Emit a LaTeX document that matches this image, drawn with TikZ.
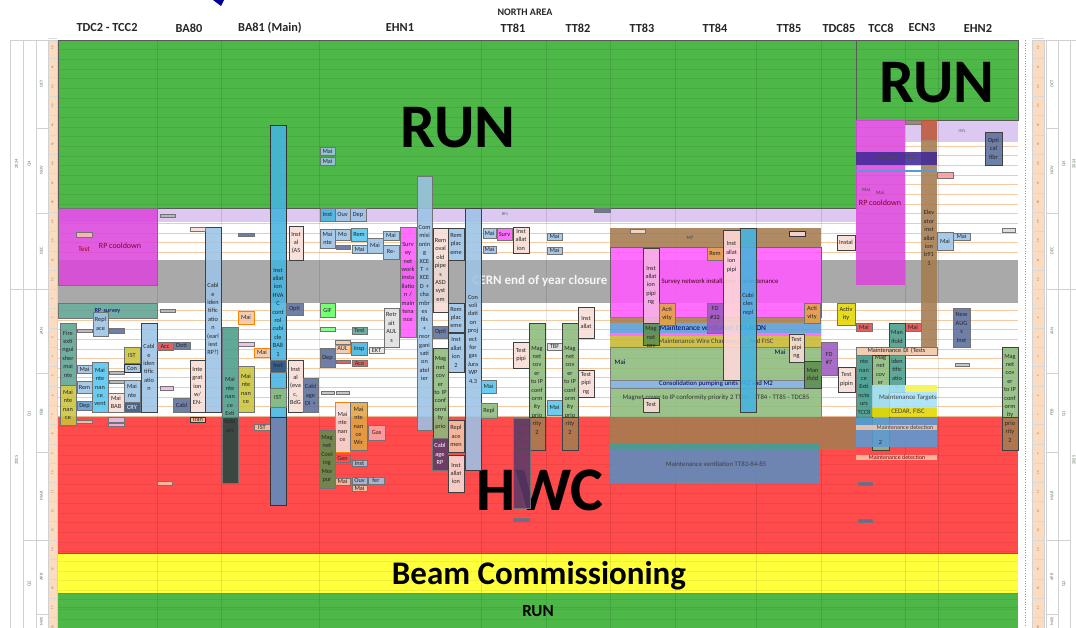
\documentclass[tikz,border=0pt]{standalone}
\usepackage{fontspec}
\setmainfont{Carlito}
\definecolor{run}{HTML}{4DB848}
\definecolor{lav}{HTML}{DCC8F0}
\definecolor{hwc}{HTML}{FF4B4B}
\definecolor{bcom}{HTML}{FFFF3C}
\definecolor{clos}{HTML}{A9A9A9}
\definecolor{cMag}{HTML}{DC46DC}
\definecolor{cMagB}{HTML}{FF5AFF}
\definecolor{cTeal}{HTML}{5EA392}
\definecolor{cLtb}{HTML}{9DC3E6}
\definecolor{cCyan}{HTML}{55C6EE}
\definecolor{cYg}{HTML}{C9C43C}
\definecolor{cPale}{HTML}{F6DDD6}
\definecolor{cSlate}{HTML}{5B6E9C}
\definecolor{cNavy}{HTML}{34507E}
\definecolor{cTealD}{HTML}{4A9E8C}
\definecolor{cHvac}{HTML}{45B4E0}
\definecolor{cHvacB}{HTML}{5B8CC0}
\definecolor{cGreen}{HTML}{8CBB7C}
\definecolor{cGreenD}{HTML}{5E8E4E}
\definecolor{cPurp}{HTML}{5C3A6A}
\definecolor{cBrown}{HTML}{A57C50}
\definecolor{cOrange}{HTML}{E3A444}
\definecolor{cRed}{HTML}{E04A4A}
\definecolor{cPeach}{HTML}{F3C5A8}
\definecolor{cBlue}{HTML}{5B9BD5}
\definecolor{cOlive}{HTML}{C9B834}
\definecolor{cViolet}{HTML}{9A5AC0}
\definecolor{cPinkB}{HTML}{F4B4E4}
\definecolor{cStrip}{HTML}{FBDCC0}
\definecolor{cRow}{HTML}{F5C9A2}
\definecolor{axtxt}{HTML}{5A7F5A}
% task block: [style] x1 y1 x2 y2 fill text
\newcommand\bk[7][]{%
  \pgfmathsetmacro\bkw{#4-#2}%
  \pgfmathsetmacro\bkx{(#2+#4)/2}%
  \pgfmathsetmacro\bky{(#3+#5)/2}%
  \draw[blk,fill=#6,#1] (#2,#3) rectangle (#4,#5);
  \node[blktxt,text width=\bkw pt] at (\bkx,\bky) {#7};}
% small unlabelled tag
\newcommand\tg[5]{\draw[blk,fill=#5,line width=0.3pt] (#1,#2) rectangle (#3,#4);}
\begin{document}
\begin{tikzpicture}[x=1pt,y=-1pt,
  blk/.style={draw=black!55,line width=0.4pt,fill opacity=0.88},
  blktxt/.style={font=\fontsize{6.3}{8.4}\selectfont,inner sep=0pt,align=center,text=black!85},
  head/.style={font=\fontsize{12.3}{13}\selectfont\bfseries,text=black!85},
  wklab/.style={font=\fontsize{2.8}{3}\selectfont,text=black!60,rotate=90,inner sep=0pt},
  axlab/.style={font=\fontsize{4.5}{5}\selectfont,text=axtxt,rotate=90,inner sep=0pt},
  axline/.style={draw=black!18,line width=0.4pt},
  bigtxt/.style={font=\fontsize{62}{62}\selectfont\bfseries,text=black},
  wide/.style={font=\fontsize{6.8}{8}\selectfont,inner sep=0pt,text=black!75}]
\useasboundingbox (0,0) rectangle (1076,628);
\fill[white] (0,0) rectangle (1076,628);

% ---------- time axes ----------
\fill[cStrip] (48,40) rectangle (57,628);
\fill[cStrip] (1032,40) rectangle (1044,628);
\foreach \xx in {10,23,36,48,57} \draw[axline] (\xx,40) -- (\xx,628);
\foreach \xx in {1032,1044,1046,1058,1070} \draw[axline] (\xx,40) -- (\xx,628);
\draw[axline] (10,40) -- (57,40);
\draw[axline] (1032,40) -- (1076,40);
\foreach \yy in {128,213,289,373,452,540,614}{
  \draw[axline] (36,\yy) -- (48,\yy);
  \draw[axline] (1046,\yy) -- (1058,\yy);}
\foreach \yy in {289,540}{
  \draw[axline] (23,\yy) -- (36,\yy);
  \draw[axline] (1058,\yy) -- (1070,\yy);}
\draw[axline] (10,289) -- (23,289);
\draw[axline] (1070,289) -- (1076,289);
\draw[blue!45,dotted,line width=0.6pt] (1025,40) -- (1025,628);
\foreach \i in {0,...,30}{
  \pgfmathtruncatemacro\wk{\i<13 ? \i+40 : \i-12}
  \pgfmathsetmacro\yy{48+19.3*\i}
  \pgfmathsetmacro\yb{38.4+19.3*\i}
  \node[wklab] at (52.5,\yy) {\wk};
  \node[wklab] at (1038,\yy) {\wk};
  \draw[black!15,line width=0.3pt] (48,\yb) -- (57,\yb);
  \draw[black!15,line width=0.3pt] (1032,\yb) -- (1044,\yb);
}
\foreach \yy/\m in {84/OCT,170/NOV,251/DEC,331/JAN,412/FEB,496/MAR,577/APR,621/MAY}{
  \node[axlab] at (41.5,\yy) {\m};
  \node[axlab] at (1052,\yy) {\m};}
\foreach \yy/\q in {164/Q4,414/Q1,584/Q2}{
  \node[axlab] at (29.5,\yy) {\q};
  \node[axlab] at (1064,\yy) {\q};}
\node[axlab] at (16.5,164) {2024};
\node[axlab] at (16.5,460) {2025};
\node[axlab] at (1074,164) {2024};
\node[axlab] at (1074,460) {2025};

% ---------- header ----------
\fill[blue!60!black] (213,0) -- (224,0) -- (221,6) -- cycle;
\node[font=\fontsize{10}{10}\selectfont\bfseries,text=black!85] (na) at (525,12) {NORTH AREA};
\foreach \xx/\t [count=\n] in {107/TDC2 - TCC2,189/BA80,270/BA81 (Main),400/EHN1,513/TT81,578/TT82,642/TT83,715/TT84,789/TT85,839/TDC85,881/TCC8,922/ECN3,978/EHN2}
  \node[head] (h\n) at (\xx,28) {\t};

% ---------- row lines of the free weeks ----------
\foreach \k in {0,...,61}{
  \pgfmathsetmacro\yy{40+9.65*\k}
  \draw[cRow,line width=0.6pt] (58,\yy) -- (1018,\yy);}

% ---------- phase bands ----------
\fill[run] (58,40) rectangle (856,208);
\fill[run] (856,40) rectangle (1018,120);
\fill[lav] (58,208) rectangle (856,222);
\fill[lav] (905,120) rectangle (1018,142);
\fill[clos] (58,260) rectangle (1018,303);
\fill[hwc] (58,417) rectangle (1018,553);
\fill[bcom] (58,553) rectangle (1018,593);
\fill[run] (58,593) rectangle (1018,628);

% ---------- grid over the phase bands ----------
\foreach \k in {0,...,17}{
  \pgfmathsetmacro\yy{40+9.65*\k}
  \draw[black,opacity=0.07,line width=0.5pt] (58,\yy) -- (856,\yy);}
\foreach \k in {0,...,8}{
  \pgfmathsetmacro\yy{40+9.65*\k}
  \draw[black,opacity=0.07,line width=0.5pt] (856,\yy) -- (1018,\yy);}
\foreach \k in {39,...,61}{
  \pgfmathsetmacro\yy{40+9.65*\k}
  \draw[black,opacity=0.06,line width=0.5pt] (58,\yy) -- (1018,\yy);}
\foreach \xx in {157,221,319,481,546,610,675,756,821,905,938}
  \draw[black,opacity=0.10,line width=0.5pt] (\xx,40) -- (\xx,628);
\draw[black!65,line width=0.6pt] (58,40) -- (1018,40) -- (1018,120) -- (856,120) -- (856,208) -- (58,208) -- cycle;
\draw[black!65,line width=0.6pt] (856,40) -- (856,120);
\draw[black!60,line width=0.5pt] (58,553) -- (1018,553);
\draw[black!50,line width=0.5pt] (58,593) -- (1018,593);
\draw[black!50,line width=0.5pt] (58,607) -- (1018,607);

% ---------- phase labels ----------
\node[bigtxt] (run1) at (458,128) {RUN};
\node[bigtxt] (run2) at (937,83) {RUN};
\node[bigtxt] (hwcl) at (540,490) {HWC};
\node[font=\fontsize{33}{33}\selectfont\bfseries] (bcl) at (539,576) {Beam Commissioning};
\node[font=\fontsize{17}{17}\selectfont\bfseries] (run3) at (538,611) {RUN};
\node[font=\fontsize{13}{13}\selectfont\bfseries,text=white,opacity=0.9] (closl) at (540,281) {CERN end of year closure};

% ---------- TDC2 - TCC2 ----------
\bk{58}{208}{157}{285}{cMag}{}
\node[font=\fontsize{8}{8}\selectfont,text=purple!70!black] at (120,246) {RP cooldown};
\node[font=\fontsize{7}{7}\selectfont,text=red!60!black] at (84,249) {Test};
\tg{76}{232}{92}{237}{cPeach}
\bk{58}{303}{157}{318}{cTeal}{\textcolor{blue!50!black}{RP survey}}
\bk{93}{312}{108}{336}{cLtb}{Repl\\ace}
\bk{60}{323}{76}{385}{cTeal}{Fire\\exti\\ngui\\sher\\mai\\nte}
\bk{60}{385}{76}{425}{cYg}{Mai\\nte\\nan\\ce}
\tg{77}{329}{92}{332}{black!30}
\tg{109}{328}{124}{333}{cSlate}
\bk{77}{365}{92}{373}{cLtb}{Mai}
\bk{77}{381}{92}{393}{cLtb}{Rem}
\bk{77}{401}{92}{410}{cBlue}{Dep}
\bk{92}{362}{108}{412}{cCyan}{Mai\\nte\\nan\\ce\\vent}
\tg{109}{371}{124}{374}{black!30}
\tg{109}{380}{124}{383}{black!30}
\bk{108}{393}{124}{412}{cPale}{Mai\\BAB}
\bk{124}{347}{140}{363}{cYg}{IST}
\bk[draw=black!80]{124}{364}{140}{372}{cLtb}{Con}
\bk{124}{380}{140}{402}{cLtb}{Mai\\nte}
\bk{124}{402}{140}{412}{cNavy}{\textcolor{white}{CRY}}
\bk[draw=black!75]{141}{323}{157}{412}{cLtb}{Cabl\\e\\iden\\tific\\atio\\n}
\tg{108}{417}{124}{422}{lav}
\tg{108}{423}{124}{426}{cPinkB}
\tg{76}{420}{92}{423}{cPeach}

% ---------- BA80 ----------
\tg{160}{214}{175}{217}{black!30}
\tg{160}{309}{175}{312}{black!30}
\bk{157}{342}{173}{350}{cRed}{Acc}
\bk{173}{342}{190}{349}{cSlate}{Doti}
\tg{160}{386}{173}{390}{cPinkB}
\bk{173}{398}{190}{412}{cSlate}{Cabl}
\bk[draw=black!75]{190}{360}{205}{412}{cPale}{Inte\\grat\\ion\\w/\\EN-}
\bk[draw=black!75]{205}{227}{221}{412}{cLtb}{Cabl\\e\\iden\\tific\\atio\\n\\(earl\\iest\\RP?)}
\tg{190}{227}{205}{231}{cPale}
\bk[draw=black!80]{190}{417}{205}{422}{cPeach}{Tran}
\tg{157}{481}{172}{485}{cPeach}

% ---------- BA81 ----------
\bk{222}{327}{238}{417}{cTealD}{}
\bk{222}{417}{238}{483}{black!55!cTealD}{}
\node[blktxt] at (230,405) {Mai\\nte\\nan\\ce\\Exti\\ncte\\urs};
\tg{238}{233}{254}{236}{cSlate}
\bk[draw=orange]{238}{311}{254}{324}{cPeach}{Mai}
\tg{238}{342}{254}{346}{cPinkB}
\bk[draw=orange]{254}{348}{270}{357}{cPeach}{Mai}
\bk{238}{366}{254}{412}{cYg}{Mai\\nte\\nan\\ce}
\bk{254}{424}{270}{430}{cPeach}{IST}
\bk[draw=black!80]{270}{125}{286}{417}{cHvac}{}
\bk[draw=black!80]{270}{417}{286}{505}{cHvacB}{}
\node[blktxt] at (278,312) {Inst\\allat\\ion\\HVA\\C\\cont\\rol\\cubi\\cle\\BA8\\1};
\bk{270}{360}{286}{372}{cNavy}{Inst}
\bk{270}{388}{286}{407}{cGreen}{IST}
\bk[draw=black!75]{289}{226}{303}{260}{cPale}{Inst\\al\\(AS}
\bk{286}{303}{303}{315}{cSlate}{Opti}
\bk[draw=black!75]{288}{360}{303}{412}{cPale}{Inst\\al\\(eva\\c,\\BdG}
\bk{303}{378}{318}{412}{cSlate}{Cabl\\age\\DI +}

% ---------- EHN1 ----------
\bk{320}{208}{335}{221}{cHvac}{Inst}
\bk{335}{208}{350}{221}{cLtb}{Ouv}
\bk{350}{208}{366}{221}{cLtb}{Dep}
\bk{320}{229}{335}{248}{cLtb}{Mai\\nte}
\bk{335}{229}{350}{240}{cLtb}{Mo}
\bk{351}{228}{367}{241}{cCyan}{Rem}
\tg{336}{245}{350}{249}{cSlate}
\bk{352}{245}{367}{253}{cLtb}{Mai}
\bk{367}{238}{383}{253}{cLtb}{Mai}
\bk{383}{231}{399}{240}{cLtb}{Mai}
\bk{383}{245}{399}{259}{cLtb}{Re-}
\bk{400}{227}{416}{337}{cMagB}{Surv\\ey\\net\\work\\insta\\llatio\\n /\\main\\tena\\nce}
\bk{417}{176}{432}{430}{cLtb}{Com\\misi\\onin\\g\\XCE\\T +\\XCE\\D +\\cha\\mbr\\es\\fils\\+\\reor\\gani\\sati\\on\\atel\\ier}
\bk[draw=black!75]{433}{228}{448}{312}{cPale}{Rem\\oval\\old\\pipe\\s\\ASD\\syst\\em}
\bk{433}{326}{448}{338}{cSlate}{Opti}
\bk[draw=black!75]{433}{348}{448}{438}{cGreen}{Mag\\net\\cov\\er\\to IP\\conf\\ormi\\ty\\prio}
\bk{432}{438}{448}{470}{cPurp}{\textcolor{white!80}{Cabl\\age\\RP}}
\bk[draw=black!75]{448}{228}{464}{260}{cLtb}{Rem\\plac\\eme}
\bk[draw=black!75]{448}{303}{464}{332}{cLtb}{Rem\\plac\\eme}
\bk[draw=black!75]{448}{333}{464}{372}{cLtb}{Inst\\allat\\ion\\2}
\bk[draw=black!75]{448}{420}{464}{452}{cPeach}{Repl\\ace\\men}
\bk[draw=black!75]{448}{455}{464}{492}{cPale}{Inst\\allat\\ion}
\bk[draw=black!75]{465}{208}{481}{470}{cLtb}{Con\\soli\\dati\\on\\proj\\ect\\for\\gas\\Jura\\WP\\4.3}
\bk{384}{308}{399}{347}{black!12}{Retr\\ait\\AUL\\s}
\bk{320}{303}{335}{317}{green!60}{GIF}
\tg{320}{327}{335}{331}{green!50}
\bk{352}{327}{367}{334}{cTeal}{Test}
\tg{335}{340}{350}{344}{cPeach}
\bk[draw=orange]{335}{345}{350}{353}{cPeach}{AUL}
\bk{351}{342}{367}{355}{cHvac}{Insp}
\bk{369}{347}{384}{353}{black!10}{EKT}
\bk{320}{348}{335}{367}{cSlate}{Dep}
\tg{336}{360}{350}{363}{cRed}
\bk{352}{360}{367}{366}{cRed}{Ace}
\tg{321}{391}{334}{394}{black!25}
\tg{336}{391}{349}{394}{black!25}
\bk[draw=orange]{335}{402}{350}{452}{cPale}{Mai\\nte\\nan\\ce}
\bk{350}{402}{367}{450}{cOrange}{Mai\\nte\\nan\\ce\\Wir}
\bk{368}{425}{385}{440}{red!35}{Gas}
\bk{319}{430}{335}{488}{cGreenD}{Mag\\net\\Cool\\ing\\Mor\\pur}
\bk{335}{455}{350}{462}{hwc}{Gen}
\bk{352}{460}{367}{466}{cLtb}{Inst}
\bk{335}{478}{350}{485}{cPeach}{Mai}
\bk{352}{477}{367}{484}{cLtb}{Ouv}
\bk{368}{477}{384}{484}{cLtb}{fer}
\bk{352}{485}{367}{491}{cPeach}{Mai}
\bk{320}{147}{335}{155}{cLtb}{Mai}
\bk{320}{157}{335}{165}{cLtb}{Mai}

% ---------- TT81 / TT82 ----------
\node[font=\fontsize{4.5}{5}\selectfont,text=black!60] at (505,214) {BFs};
\bk{483}{228}{496}{238}{cLtb}{Mai}
\bk{497}{228}{512}{240}{cMagB}{Surv}
\bk[draw=black!75]{513}{227}{529}{253}{cPale}{Inst\\allat\\ion}
\bk{483}{246}{496}{253}{cLtb}{Mai}
\bk{481}{380}{496}{393}{cCyan}{Mai}
\bk{481}{403}{497}{418}{cGreen}{Repl}
\bk[draw=black!75]{513}{342}{529}{368}{cPale}{Test\\pipi}
\bk[draw=black!75]{529}{323}{545}{417}{cGreen}{}
\bk[draw=black!75]{529}{417}{545}{450}{cBrown}{}
\node[blktxt] at (537,390) {Mag\\net\\cov\\er\\to IP\\conf\\orm\\ity\\prio\\rity\\2};
\draw[blk,fill=cPurp] (513,418) rectangle (530,508);
\node[blktxt,text width=17pt,text=black!70] at (521.5,437) {Cabl\\age\\Fire\\Safe};
\tg{513}{518}{529}{521}{cSlate}
\bk{547}{233}{562}{240}{cLtb}{Mai}
\bk{547}{247}{562}{254}{cLtb}{Mai}
\bk{547}{343}{562}{350}{black!12}{TBF}
\bk{547}{400}{562}{415}{cCyan}{Mai}
\bk[draw=black!75]{562}{323}{578}{417}{cGreen}{}
\bk[draw=black!75]{562}{417}{578}{450}{cBrown}{}
\node[blktxt] at (570,390) {Mag\\net\\cov\\er\\to IP\\conf\\orm\\ity\\prio\\rity\\2};
\bk[draw=black!75]{578}{307}{594}{338}{cPale}{Inst\\allat}
\bk[draw=black!75]{578}{370}{594}{397}{cPale}{Test\\pipi\\ng}
\tg{594}{208}{610}{212}{cSlate}

% ---------- TT83 / TT84 / TT85 ----------
\bk[draw=none]{610}{228}{821}{247}{cBrown}{}
\bk[draw=black!60]{610}{247}{821}{317}{cMagB}{}
\node[wide,text=purple!40!black] at (720,282) {Survey network installation / maintenance};
\bk[draw=none]{610}{317}{821}{323}{cBrown}{}
\bk[draw=none]{610}{323}{821}{333}{cBlue}{}
\node[wide,font=\fontsize{7.5}{8}\selectfont,text=blue!40!black] at (713,328) {Maintenance ventilation ET LACON};
\bk[draw=none]{610}{333}{821}{336}{cMagB}{}
\bk[draw=none]{610}{336}{821}{347}{cOlive}{}
\node[wide,text=black!75] at (716,342) {Maintenance Wire Chambers, ... And FISC};
\bk[draw=black!50]{610}{347}{821}{380}{cGreen}{}
\node[wide,text=blue!40!black] at (620,362) {Mai};
\node[wide,text=blue!40!black] at (780,352) {Mai};
\bk[draw=black!50]{610}{380}{821}{388}{cBlue!80}{}
\node[wide,text=blue!30!black] at (716,384) {Consolidation pumping units P42 and M2};
\bk[draw=black!50]{610}{388}{821}{417}{cGreen}{}
\node[wide,text=black!80] at (716,398) {Magnet cover to IP conformity priority 2 TT83 - TT84 - TT85 - TDC85};
\bk[draw=none]{610}{417}{856}{450}{cBrown}{}
\bk[draw=none]{610}{443}{820}{484}{cHvacB}{}
\bk[draw=none]{610}{443}{820}{450}{cTealD}{}
\node[wide,text=black!75] at (716,464) {Maintenance ventilation TT83-84-85};
\node[wide,font=\fontsize{5.5}{6}\selectfont,text=black!45] at (716,483) {Remplacement ... sur collimateurs};
\tg{630}{229}{645}{233}{cPale}
\node[wide,font=\fontsize{5}{5}\selectfont] at (690,238) {M7};
\bk[draw=black!75]{643}{248}{659}{323}{cPinkB}{Inst\\allat\\ion\\pipi\\ng}
\draw[blk,draw=black!75,fill=cGreenD] (643,323) rectangle (659,345);
\node[blktxt,text width=16pt] at (651,337) {Mag\\net\\cov};
\bk{659}{303}{675}{325}{cOrange}{Acti\\vity}
\bk[draw=black!75]{643}{398}{659}{412}{cPale}{Test}
\bk{707}{247}{723}{260}{cOrange}{Rem}
\draw[blk,fill=cViolet] (707,303) rectangle (723,333);
\node[blktxt,text width=16pt] at (715,313) {FD\\\#32};
\draw[blk,draw=black!75,fill=pink!60] (723,230) rectangle (740,380);
\node[blktxt,text width=17pt] at (731.5,257) {Inst\\allat\\ion\\pipi};
\draw[blk,draw=black!75,fill=cHvac] (740,228) rectangle (756,412);
\node[blktxt,text width=16pt] at (748,304) {Cubi\\cles\\repl};
\bk[draw=black!80]{789}{231}{805}{236}{cPale}{}
\bk{804}{303}{820}{323}{cOrange}{Acti\\vity}
\bk[draw=black!75]{789}{334}{804}{362}{cPale}{Test\\pipi\\ng}
\bk[draw=black!75]{804}{361}{821}{388}{cGreenD}{Man\\ifold}

% ---------- TDC85 ----------
\bk{821}{342}{837}{375}{cViolet}{FD\\\#7}
\bk[draw=black!75]{837}{235}{855}{250}{cPale}{Instal}
\bk{837}{303}{855}{325}{yellow!75!olive}{Activ\\ity}
\bk[draw=black!75]{838}{367}{855}{392}{cPale}{Test\\pipin}

% ---------- TCC8 / ECN3 / EHN2 ----------
\bk[draw=none]{856}{120}{905}{285}{cMag}{}
\node[font=\fontsize{8}{8}\selectfont,text=purple!70!black] at (880,203) {RP cooldown};
\node[wide,font=\fontsize{5}{5}\selectfont] at (866,190) {Mai};
\node[wide,font=\fontsize{5}{5}\selectfont] at (880,193) {Mai};
\node[font=\fontsize{4.5}{5}\selectfont,text=black!60] at (962,131) {ISTs};
\bk[draw=none]{921}{140}{937}{347}{cBrown}{}
\bk[draw=none]{921}{120}{937}{140}{cBrown!70!red}{}
\node[blktxt] at (929,238) {Elev\\ator\\inst\\allat\\ion\\b91\\1};
\tg{905}{120}{921}{124}{cBrown}
\bk[draw=none]{856}{152}{937}{165}{cPurp!70!blue}{}
\node[wide,text=black!70] at (897,158) {Câblage RP R2C};
\draw[cBlue,line width=1.5pt] (856,171) -- (937,171);
\bk[draw=black!75]{985}{132}{1002}{165}{cSlate}{Opti\\cal\\fibr}
\tg{937}{172}{953}{178}{red!40}
\bk{937}{232}{953}{250}{cLtb}{Mai}
\bk{953}{233}{970}{240}{cLtb}{Mai}
\tg{1002}{228}{1015}{232}{black!15}
\bk{953}{308}{970}{347}{cSlate}{New\\AUG\\s\\Inst}
\tg{955}{363}{969}{366}{black!25}
\bk{856}{323}{872}{331}{cRed}{Mai}
\bk{905}{323}{921}{331}{cRed}{Mai}
\draw[blk,draw=black!75,fill=cTealD] (889,323) rectangle (905,392);
\node[blktxt,text width=16pt] at (897,337) {Man\\ifold};
\node[blktxt,text width=16pt] at (897,374) {iden\\tific\\atio\\n};
\bk{856}{347}{937}{355}{cPeach}{Maintenance DI (Tests}
\draw[blk,fill=cTealD!80!teal] (856,355) rectangle (872,425);
\node[blktxt,text width=16pt] at (864,387) {nte\\nan\\ce\\Exti\\ncte\\urs\\TCC8};
\draw[blk,draw=black!75,fill=cGreen] (872,355) rectangle (889,450);
\node[blktxt,text width=17pt] at (880.5,370) {Mag\\net\\cov\\er};
\bk[draw=none]{872}{385}{937}{408}{cyan!35}{}
\bk[draw=none]{905}{385}{937}{392}{yellow!70}{}
\node[wide] at (908,398) {Maintenance Targets};
\bk[draw=none]{872}{408}{937}{417}{yellow!75!olive}{}
\node[wide] at (908,412) {CEDAR, FISC};
\bk[draw=none]{856}{418}{937}{447}{cBlue}{}
\bk[draw=none]{856}{425}{937}{430}{cPeach}{}
\node[wide,font=\fontsize{6}{6}\selectfont] at (905,427) {Maintenance detection};
\node[blktxt] at (880.5,442) {2};
\bk[draw=none]{856}{455}{937}{460}{cPeach}{}
\node[wide,font=\fontsize{6}{6}\selectfont,text=red!50!black] at (897,457) {Maintenance detection};
\bk[draw=black!75]{1002}{347}{1018}{417}{cGreen}{}
\bk[draw=black!75]{1002}{417}{1018}{450}{cBrown}{}
\node[blktxt] at (1010,398) {Mag\\net\\cov\\er\\to IP\\conf\\orm\\ity\\prio\\rity\\2};
\tg{858}{482}{872}{485}{cSlate}
\tg{858}{519}{872}{522}{cSlate}
\end{tikzpicture}
\end{document}
